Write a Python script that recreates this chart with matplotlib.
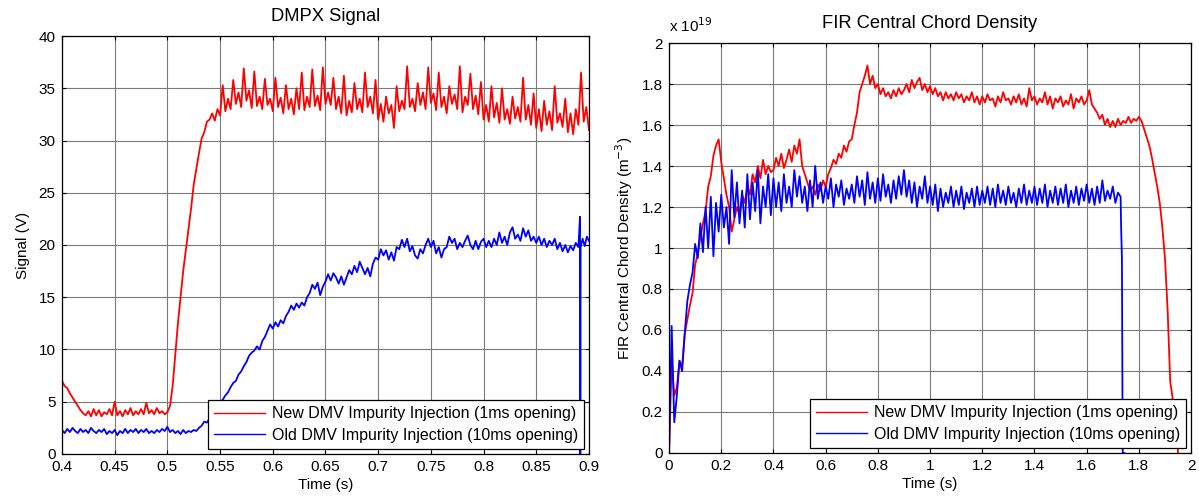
import numpy as np
import matplotlib
matplotlib.use("Agg")
import matplotlib.pyplot as plt

plt.rcParams['font.family'] = ['Liberation Sans', 'DejaVu Sans']
plt.rcParams['font.size'] = 11

# ---- DMPX signal (V), sampled every 2.5 ms from 0.40 s ----
dmpx_new = [
    7.0, 6.5, 6.3, 5.8, 5.4, 5.0, 4.6, 4.2, 3.9, 3.7,
    4.1, 3.6, 4.3, 3.7, 4.2, 3.6, 4.0, 3.8, 4.3, 3.7,
    5.0, 3.7, 4.1, 3.6, 4.2, 3.8, 4.4, 3.7, 4.1, 3.8,
    4.3, 3.8, 4.9, 3.9, 4.2, 3.8, 4.4, 3.9, 4.1, 3.8,
    4.0, 4.6, 6.5, 9.5, 12.5, 15.0, 17.5, 19.5, 21.5, 23.5,
    25.8, 27.3, 28.8, 30.2, 30.8, 31.8, 32.0, 32.6, 31.9, 33.0,
    32.4, 35.3, 32.8, 34.0, 33.0, 35.8, 33.5, 34.6, 33.2, 36.9,
    33.8, 34.8, 33.1, 36.6, 33.3, 34.2, 33.0, 35.9, 33.4, 34.0,
    32.8, 36.0, 33.2, 34.1, 32.6, 35.3, 33.0, 34.0, 32.5, 35.0,
    33.0, 36.5, 32.9, 34.2, 33.2, 36.8, 33.3, 34.3, 32.9, 37.0,
    33.5, 34.6, 33.4, 36.0, 33.0, 34.2, 32.6, 36.2, 32.4, 33.8,
    32.7, 35.5, 33.0, 34.0, 32.7, 36.5, 33.2, 34.2, 32.6, 35.8,
    32.0, 33.5, 31.8, 34.2, 32.6, 33.4, 31.2, 35.2, 32.8, 33.8,
    33.0, 37.1, 33.2, 34.0, 32.8, 35.5, 33.4, 34.6, 33.0, 37.0,
    33.6, 34.5, 32.9, 36.5, 33.2, 34.2, 32.6, 35.2, 33.5, 34.4,
    33.0, 37.1, 32.7, 34.2, 33.4, 36.4, 33.0, 34.3, 32.5, 35.6,
    32.0, 33.4, 31.8, 35.2, 32.2, 33.6, 31.7, 35.0, 32.0, 33.0,
    31.6, 34.2, 32.1, 33.2, 31.8, 36.0, 32.0, 33.4, 31.5, 34.5,
    31.2, 33.0, 30.9, 33.8, 31.5, 32.8, 31.0, 35.2, 31.7, 32.6,
    31.3, 34.0, 30.8, 32.6, 30.6, 33.0, 31.5, 36.5, 31.8, 33.2,
    31.0,
]
dmpx_old = [
    2.3, 2.0, 2.4, 2.1, 2.5, 2.2, 2.0, 2.4, 2.1, 2.3,
    2.0, 2.5, 2.2, 2.0, 2.3, 2.1, 2.4, 1.9, 2.2, 2.0,
    2.3, 1.8, 2.2, 2.0, 2.4, 2.0, 2.3, 2.1, 2.4, 2.0,
    2.3, 2.1, 2.4, 2.0, 2.2, 2.0, 2.3, 2.1, 2.4, 2.2,
    2.6, 2.1, 2.3, 2.0, 2.2, 1.9, 2.3, 2.0, 2.2, 2.1,
    2.3, 2.2, 2.5, 2.7, 3.1, 3.0, 3.4, 3.6, 4.1, 4.4,
    4.8, 5.2, 5.6, 5.9, 6.4, 6.8, 7.0, 7.6, 7.9, 8.4,
    8.8, 9.4, 9.7, 9.9, 10.3, 10.0, 10.8, 11.2, 11.8, 12.4,
    12.0, 12.6, 12.2, 12.8, 12.5, 13.2, 13.6, 14.2, 13.8, 14.4,
    14.0, 14.5, 14.2, 15.0, 15.4, 16.2, 15.8, 16.4, 15.2, 16.0,
    16.5, 17.2, 16.6, 17.3, 16.9, 16.3, 17.0, 16.2, 16.9, 17.6,
    17.2, 18.0, 17.4, 18.4, 17.8, 17.2, 17.8, 17.0, 18.2, 18.8,
    18.6, 19.6, 19.0, 19.5, 18.6, 19.3, 18.5, 19.8, 19.6, 20.5,
    19.8, 20.6, 19.4, 19.9, 19.0, 18.7, 19.6, 19.2, 20.0, 20.6,
    19.8, 20.4, 19.2, 19.8, 18.8, 19.6, 19.8, 20.8, 20.2, 20.6,
    19.6, 20.2, 19.8, 20.4, 20.9, 20.0, 19.6, 20.4, 19.6, 20.3,
    20.6, 19.8, 20.4, 19.8, 20.6, 20.0, 21.2, 20.2, 20.8, 20.0,
    21.2, 21.7, 20.6, 21.0, 20.4, 21.6, 20.8, 21.4, 20.4, 20.8,
    20.2, 20.8, 20.0, 20.6, 19.8, 20.4, 20.0, 20.6, 19.6, 20.2,
    19.4, 20.0, 19.3, 19.9, 19.5, 20.2, 19.8,
]
# end of the old shot: glitch near 0.892 s
dmpx_old_tail_t = [0.8915, 0.8918, 0.8921, 0.894, 0.896, 0.898, 0.900]
dmpx_old_tail = [22.7, -1.0, 19.8, 20.6, 19.9, 20.8, 20.4]

# ---- FIR central chord density (1e19 m^-3), sampled every 10 ms from 0 s ----
fir_new = [
    0.0, 0.45, 0.28, 0.32, 0.45, 0.42, 0.58, 0.65, 0.72, 0.78,
    0.92, 0.97, 1.05, 1.12, 1.18, 1.30, 1.35, 1.45, 1.50, 1.53,
    1.42, 1.34, 1.26, 1.20, 1.08, 1.14, 1.20, 1.16, 1.26, 1.22,
    1.30, 1.26, 1.36, 1.32, 1.40, 1.34, 1.43, 1.36, 1.40, 1.37,
    1.38, 1.44, 1.40, 1.46, 1.39, 1.43, 1.48, 1.42, 1.50, 1.46,
    1.53, 1.40, 1.36, 1.32, 1.28, 1.30, 1.26, 1.31, 1.28, 1.33,
    1.30, 1.36, 1.39, 1.43, 1.41, 1.46, 1.44, 1.50, 1.47, 1.52,
    1.53, 1.60, 1.66, 1.76, 1.80, 1.84, 1.89, 1.80, 1.84, 1.78,
    1.80, 1.75, 1.78, 1.74, 1.76, 1.73, 1.77, 1.74, 1.78, 1.75,
    1.77, 1.80, 1.76, 1.82, 1.78, 1.81, 1.83, 1.77, 1.80, 1.76,
    1.79, 1.75, 1.78, 1.74, 1.76, 1.72, 1.76, 1.73, 1.75, 1.72,
    1.76, 1.73, 1.75, 1.71, 1.74, 1.72, 1.76, 1.71, 1.74, 1.70,
    1.74, 1.71, 1.75, 1.72, 1.73, 1.69, 1.74, 1.71, 1.76, 1.72,
    1.73, 1.70, 1.74, 1.71, 1.75, 1.70, 1.73, 1.69, 1.78, 1.72,
    1.74, 1.70, 1.73, 1.71, 1.76, 1.70, 1.74, 1.68, 1.73, 1.71,
    1.74, 1.69, 1.72, 1.70, 1.75, 1.68, 1.73, 1.71, 1.74, 1.70,
    1.72, 1.77, 1.70, 1.68, 1.66, 1.63, 1.65, 1.60, 1.63, 1.59,
    1.62, 1.59, 1.63, 1.60, 1.62, 1.61, 1.64, 1.61, 1.63, 1.62,
    1.64, 1.62, 1.58, 1.54, 1.50, 1.44, 1.37, 1.30, 1.22, 1.10,
    0.95, 0.70, 0.35, 0.26, 0.20, 0.0,
]
fir_old = [
    0.0, 0.62, 0.15, 0.28, 0.45, 0.40, 0.58, 0.74, 0.82, 0.88,
    1.02, 0.95, 1.12, 0.98, 1.20, 1.00, 1.25, 0.96, 1.22, 1.08,
    1.26, 1.10, 1.20, 1.02, 1.38, 1.15, 1.32, 1.12, 1.28, 1.10,
    1.36, 1.14, 1.32, 1.18, 1.38, 1.12, 1.30, 1.20, 1.36, 1.16,
    1.34, 1.20, 1.32, 1.18, 1.36, 1.22, 1.30, 1.20, 1.38, 1.25,
    1.35, 1.22, 1.30, 1.18, 1.33, 1.20, 1.40, 1.24, 1.32, 1.22,
    1.30, 1.24, 1.34, 1.20, 1.31, 1.25, 1.33, 1.21, 1.29, 1.24,
    1.31, 1.22, 1.35, 1.25, 1.33, 1.21, 1.37, 1.24, 1.32, 1.22,
    1.34, 1.23, 1.36, 1.25, 1.31, 1.22, 1.33, 1.24, 1.35, 1.26,
    1.38, 1.25, 1.33, 1.22, 1.32, 1.20, 1.30, 1.24, 1.35, 1.22,
    1.30, 1.21, 1.31, 1.18, 1.29, 1.20, 1.27, 1.22, 1.30, 1.20,
    1.28, 1.21, 1.30, 1.19, 1.27, 1.22, 1.29, 1.20, 1.30, 1.21,
    1.28, 1.22, 1.30, 1.21, 1.29, 1.20, 1.31, 1.22, 1.28, 1.21,
    1.30, 1.22, 1.27, 1.20, 1.29, 1.22, 1.31, 1.21, 1.28, 1.22,
    1.30, 1.21, 1.29, 1.22, 1.31, 1.20, 1.28, 1.22, 1.30, 1.21,
    1.29, 1.22, 1.31, 1.20, 1.28, 1.22, 1.30, 1.21, 1.29, 1.23,
    1.31, 1.22, 1.29, 1.21, 1.30, 1.22, 1.33, 1.23, 1.28, 1.24,
    1.30, 1.22, 1.27, 1.25,
]
fir_old_tail_t = [1.732, 1.735, 1.738, 1.745]
fir_old_tail = [1.10, 0.95, 0.0, 0.0]

label_new = 'New DMV Impurity Injection (1ms opening)'
label_old = 'Old DMV Impurity Injection (10ms opening)'

t_dmpx_new = np.linspace(0.40, 0.90, len(dmpx_new))
t_dmpx_old = np.linspace(0.40, 0.89, len(dmpx_old))
t_fir_new = np.linspace(0.0, 1.95, len(fir_new))
t_fir_old = np.linspace(0.0, 1.73, len(fir_old))


def style_axes(ax):
    ax.grid(True, color='#7a7a7a', linewidth=0.8)
    ax.tick_params(direction='in', top=True, right=True, length=3, width=0.8)
    ax.tick_params(axis='x', pad=4.5)
    ax.tick_params(axis='y', pad=4.5)
    for s in ax.spines.values():
        s.set_linewidth(0.9)


def add_legend(ax):
    leg = ax.legend(loc='lower right', fancybox=False, framealpha=1,
                    edgecolor='black', borderaxespad=0.3, handlelength=3.2,
                    handletextpad=0.4, borderpad=0.4, labelspacing=0.4,
                    fontsize=11.5)
    leg.get_frame().set_linewidth(0.9)
    for h in leg.get_lines():
        h.set_linewidth(1.0)


fig = plt.figure(figsize=(11.99, 4.96), dpi=100)
ax1 = fig.add_axes([0.0517, 0.0847, 0.4395, 0.8427])
ax2 = fig.add_axes([0.558, 0.0867, 0.4354, 0.8266])

ax1.plot(t_dmpx_new, dmpx_new, color='red', lw=1.3, label=label_new)
ax1.plot(np.concatenate([t_dmpx_old, dmpx_old_tail_t]),
         dmpx_old + dmpx_old_tail, color='blue', lw=1.3, label=label_old)
ax1.set_xlim(0.4, 0.9)
ax1.set_ylim(0, 40)
ax1.set_xticks([0.4, 0.45, 0.5, 0.55, 0.6, 0.65, 0.7, 0.75, 0.8, 0.85, 0.9])
ax1.set_xticklabels(['0.4', '0.45', '0.5', '0.55', '0.6', '0.65', '0.7',
                     '0.75', '0.8', '0.85', '0.9'])
ax1.set_yticks(range(0, 41, 5))
ax1.set_xlabel('Time (s)', labelpad=3)
ax1.set_ylabel('Signal (V)', labelpad=6)
ax1.set_title('DMPX Signal', pad=11)
style_axes(ax1)
add_legend(ax1)

ax2.plot(t_fir_new, fir_new, color='red', lw=1.3, label=label_new)
ax2.plot(np.concatenate([t_fir_old, fir_old_tail_t]),
         fir_old + fir_old_tail, color='blue', lw=1.3, label=label_old)
ax2.set_xlim(0, 2)
ax2.set_ylim(0, 2)
ax2.set_xticks(np.arange(0, 2.01, 0.2))
ax2.set_xticklabels(['0', '0.2', '0.4', '0.6', '0.8', '1', '1.2', '1.4',
                     '1.6', '1.8', '2'])
ax2.set_yticks(np.arange(0, 2.01, 0.2))
ax2.set_yticklabels(['0', '0.2', '0.4', '0.6', '0.8', '1', '1.2', '1.4',
                     '1.6', '1.8', '2'])
ax2.set_xlabel('Time (s)', labelpad=3)
ax2.set_ylabel('FIR Central Chord Density (m$^{-3}$)', labelpad=5)
ax2.set_title('FIR Central Chord Density', pad=11)
ax2.text(0.0, 1.02, 'x 10$^{19}$', transform=ax2.transAxes,
         ha='left', va='bottom')
style_axes(ax2)
add_legend(ax2)

fig.savefig('out.png', dpi=100)
